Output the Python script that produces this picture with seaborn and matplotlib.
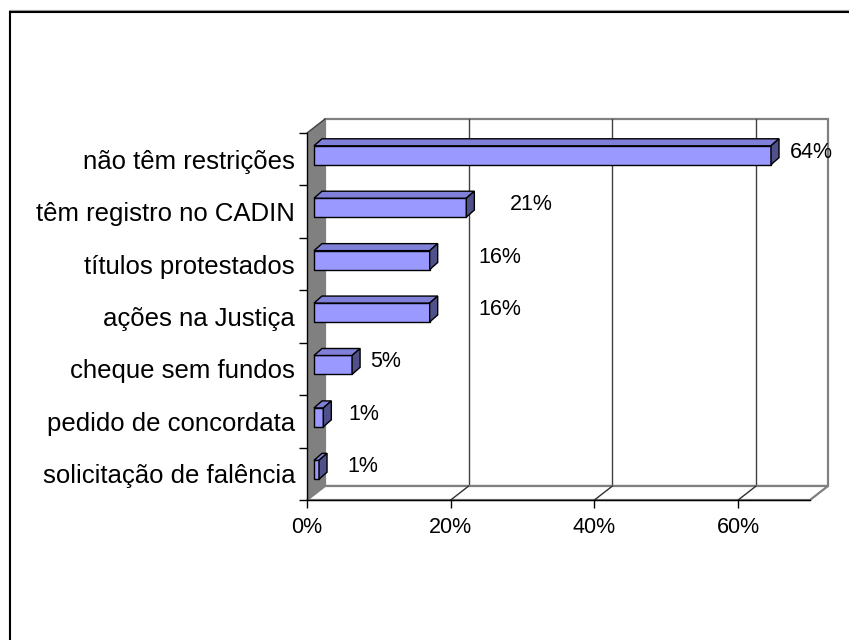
import matplotlib
matplotlib.use("Agg")
import matplotlib.pyplot as plt
from matplotlib.patches import Rectangle, Polygon
from matplotlib.ticker import FixedLocator, PercentFormatter
import seaborn as sns

categorias = [
    "não têm restrições",
    "têm registro no CADIN",
    "títulos protestados",
    "ações na Justiça",
    "cheque sem fundos",
    "pedido de concordata",
    "solicitação de falência",
]
percentuais = [0.636, 0.212, 0.161, 0.161, 0.053, 0.013, 0.007]
ticks_x = [0.0, 0.2, 0.4, 0.6]
x_max = 0.70

# espaço entre a ponta da barra e o rótulo (px), como no Excel
label_gap_px = [11, 36, 41, 41, 10, 17, 20]

sns.set_theme(style="white")
plt.rcParams["font.family"] = ["Liberation Sans", "DejaVu Sans"]
plt.rcParams["text.color"] = "black"
plt.rcParams["xtick.color"] = "black"
plt.rcParams["ytick.color"] = "black"

W, H, DPI = 849, 640, 100
fig = plt.figure(figsize=(W / DPI, H / DPI), dpi=DPI, facecolor="white")

# moldura externa
fig.patches.append(Rectangle((8.5 / W, -0.1), 2, (H - 10) / H + 0.1,
                             transform=fig.transFigure, fill=False,
                             edgecolor="#a0a0a0", lw=0.8))
fig.patches.append(Rectangle((9.8 / W, -0.1), 2, (H - 11.5) / H + 0.1,
                             transform=fig.transFigure, fill=False,
                             edgecolor="black", lw=1.5))

# plano frontal do gráfico em pixels
left, right, top, bottom = 307, 810, 133, 500
ax = fig.add_axes([left / W, (H - bottom) / H, (right - left) / W, (bottom - top) / H])
ax.set_facecolor("none")

n = len(categorias)
sx = (right - left) / x_max          # px por unidade em x
sy = (bottom - top) / n              # px por categoria


def px_x(p):
    return p / sx


def px_y(p):
    return p / sy


# profundidade das paredes e das barras
WX, WY = px_x(18), px_y(14)
BX, BY = px_x(7), px_y(4)
DX, DY = px_x(8), px_y(7)

sns.barplot(x=percentuais, y=categorias, orient="h", width=0.36,
            color="#9999FF", saturation=1, edgecolor="black", linewidth=1,
            ax=ax, zorder=3)

ax.set_xlim(0, x_max)
ax.set_ylim(n - 0.5, -0.5)

y0, y1 = -0.5, n - 0.5
wall_gray = "#808080"

# parede do fundo
ax.add_patch(Rectangle((WX, y0 - WY), x_max, n, facecolor="white",
                       edgecolor=wall_gray, lw=1.6, zorder=0.5, clip_on=False))
# linhas de grade no fundo e no piso
for t in ticks_x[1:]:
    ax.plot([t + WX, t + WX], [y0 - WY, y1 - WY], color="#404040", lw=1,
            zorder=0.6, clip_on=False)
# piso
ax.add_patch(Polygon([(0, y1), (x_max, y1), (x_max + WX, y1 - WY), (WX, y1 - WY)],
                     closed=True, facecolor="white", edgecolor=wall_gray, lw=1.6,
                     zorder=0.7, clip_on=False))
for t in ticks_x[1:]:
    ax.plot([t, t + WX], [y1, y1 - WY], color="#303030", lw=1, zorder=0.75,
            clip_on=False)
# parede lateral
ax.add_patch(Polygon([(0, y1), (0, y0), (WX, y0 - WY), (WX, y1 - WY)],
                     closed=True, facecolor=wall_gray, edgecolor="none",
                     zorder=0.8, clip_on=False))
ax.plot([0, WX], [y0, y0 - WY], color="#404040", lw=1, zorder=0.85, clip_on=False)

# barras em 3D
bars = [p for p in ax.patches if isinstance(p, Rectangle) and p.get_zorder() == 3]
for i, p in enumerate(bars):
    p.set_x(p.get_x() + BX)
    p.set_y(p.get_y() - BY)
    xa = p.get_x()
    xb = xa + p.get_width()
    yt = p.get_y()
    yb = yt + p.get_height()
    ax.add_patch(Polygon([(xa, yt), (xb, yt), (xb + DX, yt - DY), (xa + DX, yt - DY)],
                         closed=True, facecolor="#8080D8", edgecolor="black",
                         lw=1, zorder=3, clip_on=False))
    ax.add_patch(Polygon([(xb, yt), (xb, yb), (xb + DX, yb - DY), (xb + DX, yt - DY)],
                         closed=True, facecolor="#50508A", edgecolor="black",
                         lw=1, zorder=3, clip_on=False))
    v = percentuais[i]
    ax.text(xb + DX + px_x(label_gap_px[i]), (yt + yb) / 2 - px_y(3),
            f"{v * 100:.0f}%", ha="left", va="center", fontsize=15.5,
            color="black", zorder=5, clip_on=False)

# eixos
for s in ["top", "right"]:
    ax.spines[s].set_visible(False)
for s in ["left", "bottom"]:
    ax.spines[s].set_color("black")
    ax.spines[s].set_linewidth(1)
    ax.spines[s].set_zorder(4)

ax.xaxis.set_major_locator(FixedLocator(ticks_x))
ax.xaxis.set_major_formatter(PercentFormatter(1.0, decimals=0))
ax.tick_params(axis="x", which="major", direction="out", length=5.8, width=1,
               color="black", labelcolor="black", labelsize=15.5, pad=6.5,
               bottom=True)
ax.set_yticks(range(n))
ax.set_yticklabels(categorias)
ax.yaxis.set_minor_locator(FixedLocator([k - 0.5 for k in range(n + 1)]))
ax.tick_params(axis="y", which="major", length=0, labelsize=18.5, pad=8.6,
               labelcolor="black", left=True)
ax.tick_params(axis="y", which="minor", direction="out", length=5.8, width=1,
               color="black", left=True)
ax.set_xlabel("")
ax.set_ylabel("")
ax.grid(False)

fig.savefig("out.png", dpi=DPI, facecolor="white")
